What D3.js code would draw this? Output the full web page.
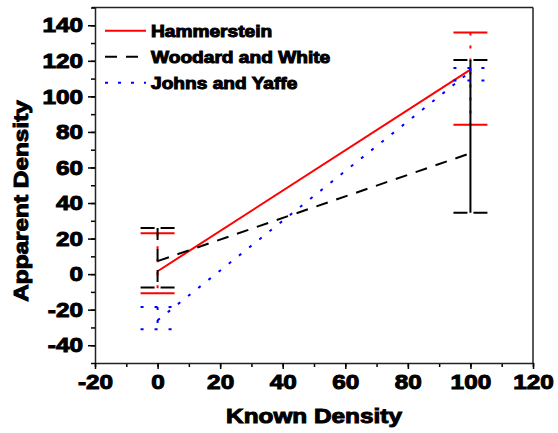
<!DOCTYPE html>
<html>
<head>
<meta charset="utf-8">
<script src="https://cdn.jsdelivr.net/npm/d3@7"></script>
<style>
body { margin: 0; background: #fff; }
text { font-family: "Liberation Sans", Arial, sans-serif; font-weight: bold; fill: #000; stroke: #000; stroke-width: 1px; }
</style>
</head>
<body>
<svg id="plotCanvas" width="558" height="433"></svg>
<script>
// data
var knownDensity = [0, 100];
var hammerstein = [1.6, 115];
var hammersteinLow = [-10.7, 84];
var hammersteinHigh = [23, 136];
var woodardWhite = [7.3, 68];
var woodardWhiteLow = [-7.5, 34.5];
var woodardWhiteHigh = [26, 120.5];
var johnsYaffe = [-26, 114];
var johnsYaffeLow = [-31, 109];
var johnsYaffeHigh = [-18.5, 116];
var xTicks = [-20, 0, 20, 40, 60, 80, 100, 120];
var yTicks = [-40, -20, 0, 20, 40, 60, 80, 100, 120, 140];

var canvas = d3.select("#plotCanvas");
var stretch = 1.16;

var x = d3.scaleLinear().domain([-20, 120]).range([95, 533]);
var y = d3.scaleLinear().domain([-50, 150]).range([363, 7.5]);

var series = [
    {name: "Hammerstein", vals: hammerstein, lo: hammersteinLow, hi: hammersteinHigh,
     color: "#ff0000", dash: null, errDash: ["3,10", "3,10"], capDash: null},
    {name: "Woodard and White", vals: woodardWhite, lo: woodardWhiteLow, hi: woodardWhiteHigh,
     color: "#000000", dash: "12,9", errDash: ["12,9", null], capDash: "14,6"},
    {name: "Johns and Yaffe", vals: johnsYaffe, lo: johnsYaffeLow, hi: johnsYaffeHigh,
     color: "#0000ff", dash: "3,10", errDash: ["3,10", "3,10"], capDash: "3,11"}
];

// frame top / right
canvas.append("line").attr("x1", 92).attr("x2", 533).attr("y1", 7.5).attr("y2", 7.5)
    .attr("stroke", "#222").attr("stroke-width", 1.5);
canvas.append("line").attr("x1", 533).attr("x2", 533).attr("y1", 7.5).attr("y2", 363)
    .attr("stroke", "#222").attr("stroke-width", 1.5);

// minor ticks
canvas.append("g").attr("transform", "translate(95,0)")
    .call(d3.axisLeft(y).tickValues(d3.range(-50, 151, 10)).tickSize(4).tickFormat(""))
    .call(g => g.select(".domain").remove())
    .selectAll("line").attr("stroke-width", 1.5);
canvas.append("g").attr("transform", "translate(0,363)")
    .call(d3.axisBottom(x).tickValues(d3.range(-20, 121, 10)).tickSize(4).tickFormat(""))
    .call(g => g.select(".domain").remove())
    .selectAll("line").attr("stroke-width", 1.5);

// major axes
var yAxis = canvas.append("g").attr("transform", "translate(95,0)")
    .call(d3.axisLeft(y).tickValues(yTicks).tickSize(7).tickSizeOuter(0).tickPadding(6)
        .tickFormat(d => String(d)));
yAxis.selectAll("text")
    .attr("font-size", "21px")
    .attr("transform", "scale(" + stretch + ",1)")
    .attr("x", -12 / stretch);
var xAxis = canvas.append("g").attr("transform", "translate(0,363)")
    .call(d3.axisBottom(x).tickValues(xTicks).tickSize(6).tickSizeOuter(0).tickPadding(5)
        .tickFormat(d => String(d)));
xAxis.selectAll("text")
    .attr("font-size", "21px")
    .attr("transform", "scale(" + stretch + ",1)");
canvas.selectAll(".domain").attr("stroke-width", 1.5).attr("stroke", "#222");
canvas.selectAll(".tick line").attr("stroke-width", 1.5);
canvas.selectAll(".tick text").attr("font-family", "Liberation Sans, Arial").attr("font-weight", "bold")
    .attr("fill", "#000").attr("stroke", "#000").attr("stroke-width", 1);

// axis titles
canvas.append("text")
    .attr("transform", "translate(314,423) scale(" + stretch + ",1)")
    .attr("text-anchor", "middle")
    .attr("font-size", "21px")
    .text("Known Density");
canvas.append("text")
    .attr("transform", "translate(28,201) rotate(-90) scale(" + stretch + ",1)")
    .attr("text-anchor", "middle")
    .attr("font-size", "21px")
    .text("Apparent Density");

var capHalf = 17;
var line = d3.line().x((d, i) => x(knownDensity[i])).y(d => y(d));

series.forEach(function(s)
{
    var g = canvas.append("g");
    g.append("path")
        .datum(s.vals)
        .attr("d", line)
        .attr("fill", "none")
        .attr("stroke", s.color)
        .attr("stroke-width", 2)
        .attr("stroke-dasharray", s.dash);

    knownDensity.forEach(function(k, i)
    {
        g.append("line")
            .attr("x1", x(k)).attr("x2", x(k))
            .attr("y1", y(s.hi[i])).attr("y2", y(s.lo[i]))
            .attr("stroke", s.color)
            .attr("stroke-width", 2)
            .attr("stroke-dasharray", s.errDash[i]);
        [s.hi[i], s.lo[i]].forEach(function(v)
        {
            g.append("line")
                .attr("x1", x(k) - capHalf).attr("x2", x(k) + capHalf)
                .attr("y1", y(v)).attr("y2", y(v))
                .attr("stroke", s.color)
                .attr("stroke-width", 2)
                .attr("stroke-dasharray", s.capDash);
        });
    });
});

// legend
var legend = canvas.append("g");
series.forEach(function(s, i)
{
    var ly = 30.7 + i * 26;
    legend.append("line")
        .attr("x1", 105).attr("x2", 146)
        .attr("y1", ly).attr("y2", ly)
        .attr("stroke", s.color)
        .attr("stroke-width", 2)
        .attr("stroke-dasharray", s.dash);
    legend.append("text")
        .attr("transform", "translate(151," + (ly + 6) + ") scale(" + stretch + ",1)")
        .attr("font-size", "16.5px")
        .text(s.name);
});
</script>
</body>
</html>
